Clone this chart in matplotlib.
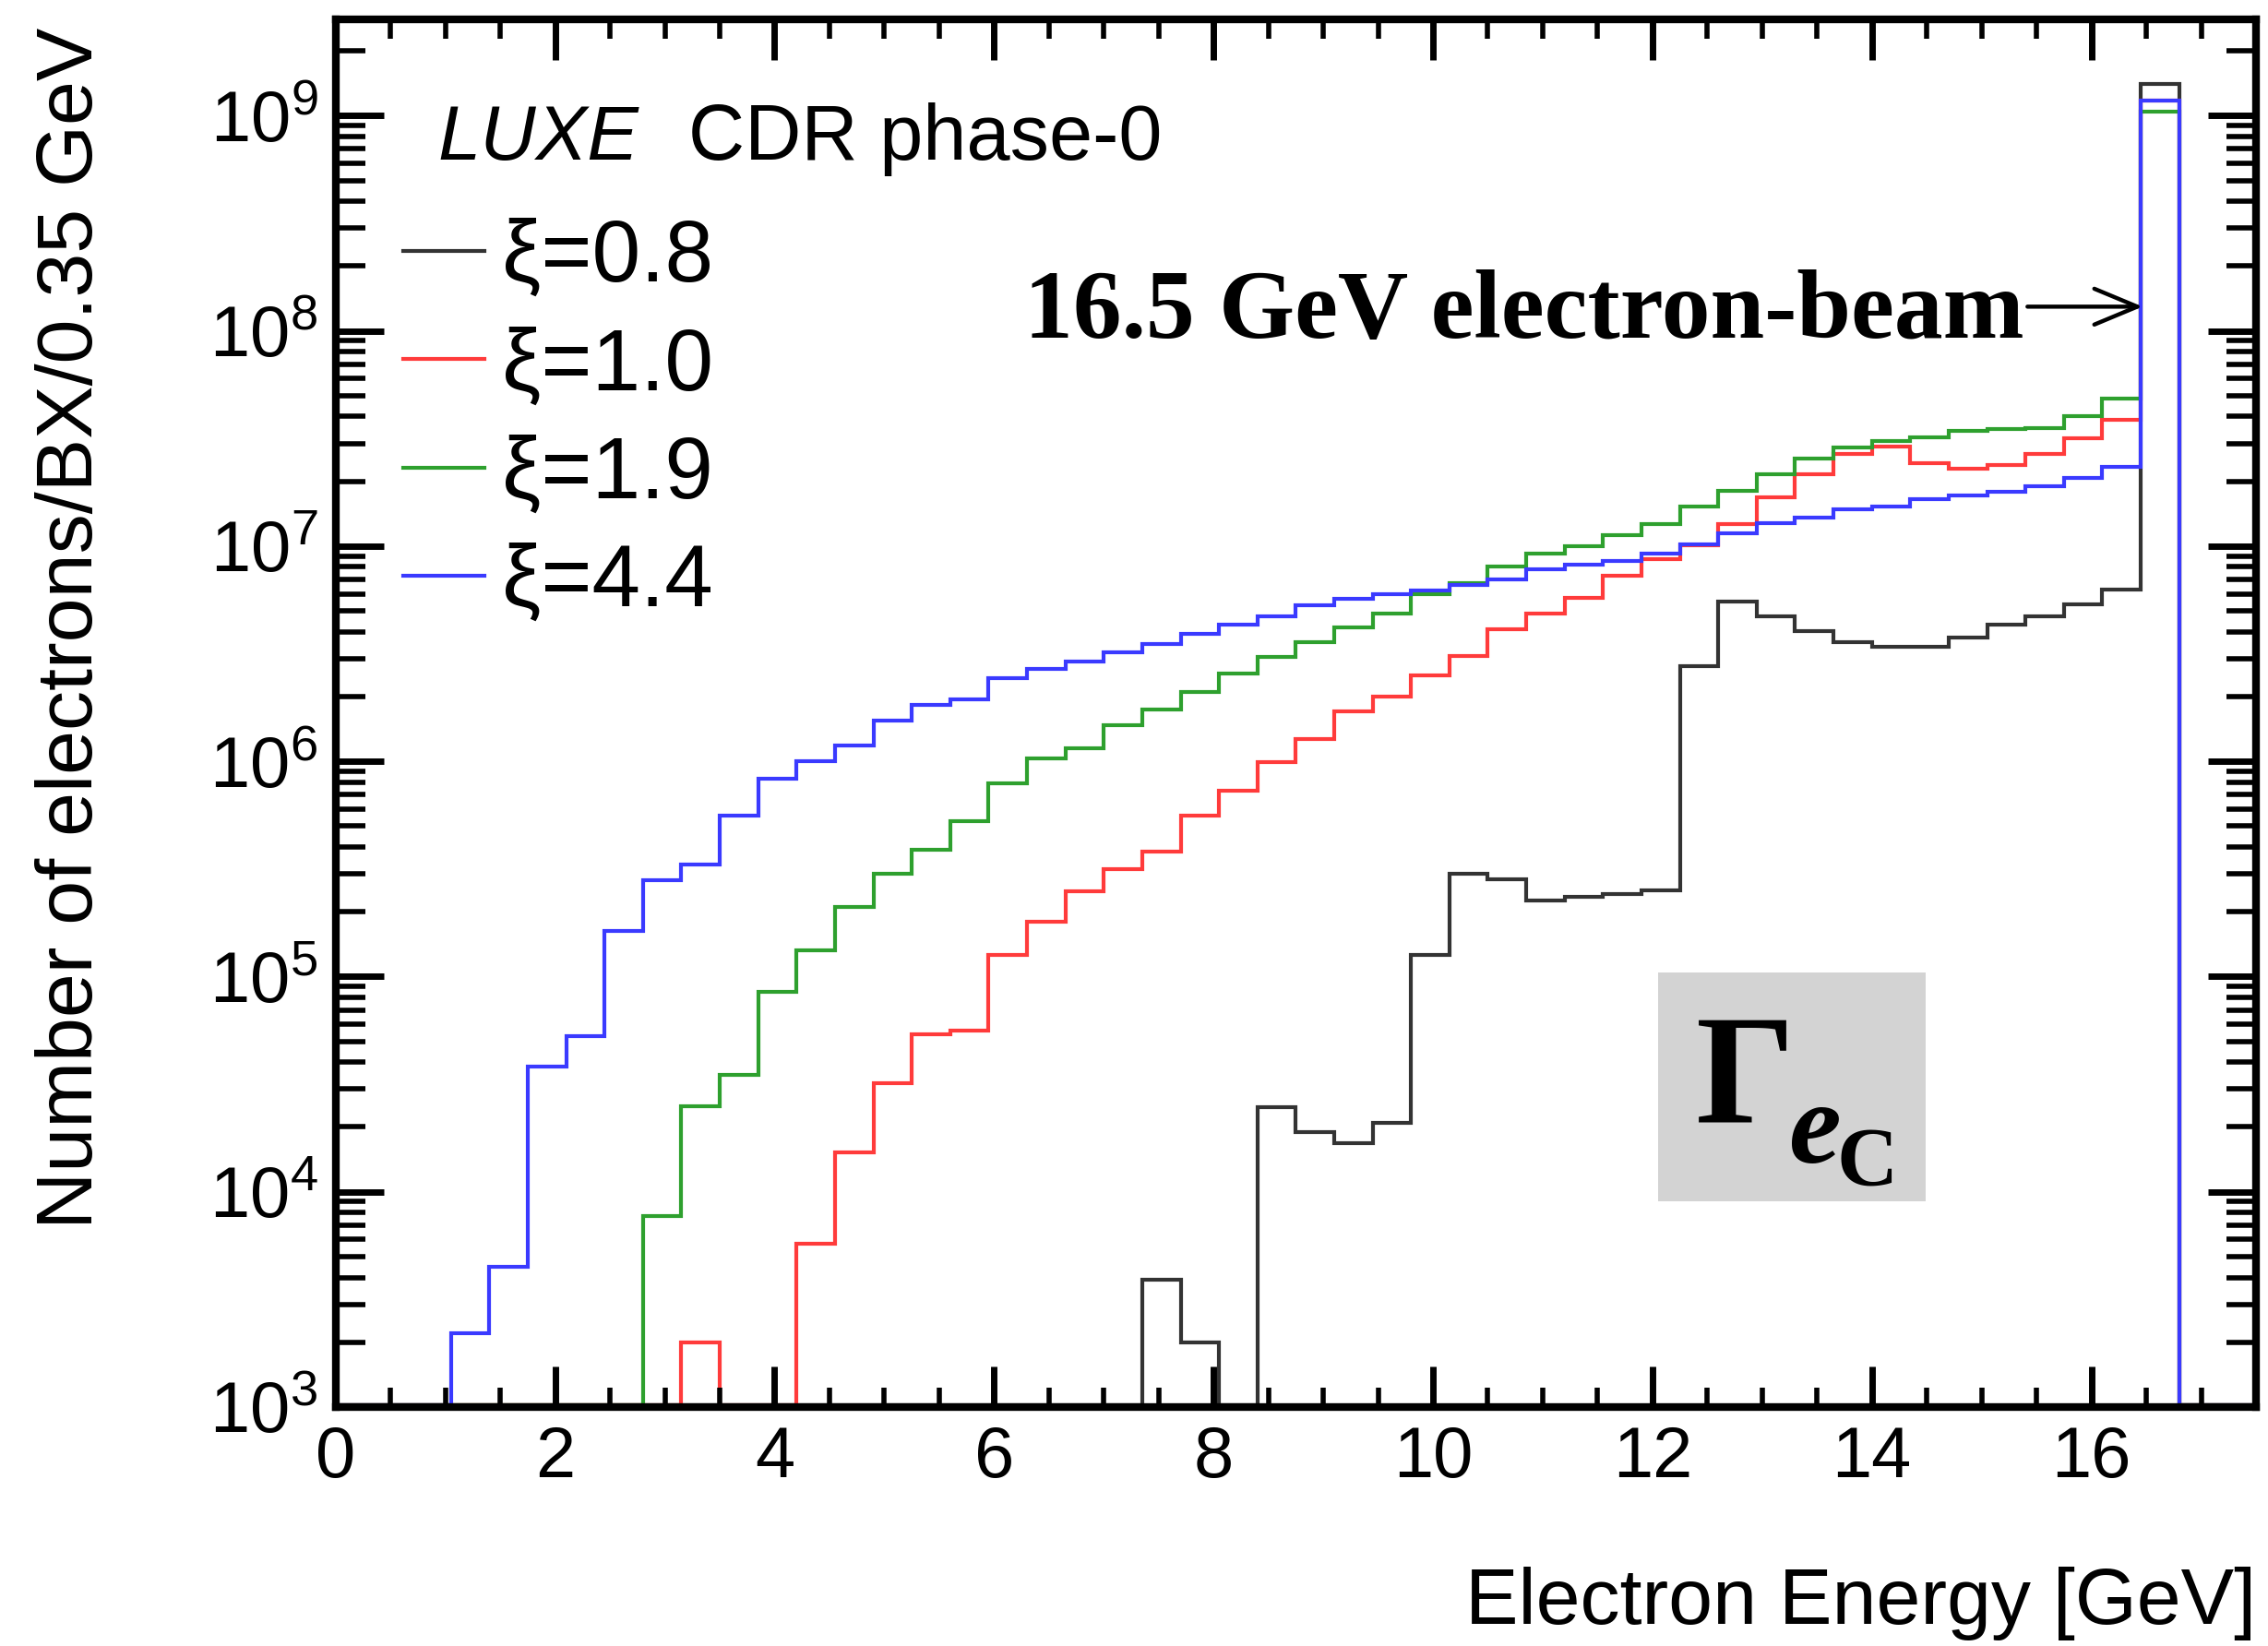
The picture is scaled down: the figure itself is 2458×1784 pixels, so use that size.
import numpy as np
import matplotlib
matplotlib.use("Agg")
import matplotlib.pyplot as plt
from matplotlib.ticker import MultipleLocator, LogLocator, NullFormatter, FixedLocator
from matplotlib.patches import Rectangle

plt.rcParams['font.family'] = ['Liberation Sans', 'DejaVu Sans']
plt.rcParams['mathtext.fontset'] = 'custom'
plt.rcParams['mathtext.rm'] = 'Liberation Sans'
plt.rcParams['mathtext.it'] = 'Liberation Sans:italic'
plt.rcParams['mathtext.bf'] = 'Liberation Sans:bold'

# 50 bins of 0.35 GeV from 0 to 17.5 GeV
bin_edges = np.linspace(0, 17.5, 51)

xi_labels = ["\u03be=0.8", "\u03be=1.0", "\u03be=1.9", "\u03be=4.4"]
colors = ["#333333", "#ff3b3b", "#2ea02e", "#3a3aff"]

xi08 = [0]*21 + [3.9e3, 2.0e3, 0, 2.48e4, 1.89e4, 1.69e4, 2.09e4, 1.26e5, 3.0e5,
        2.83e5, 2.26e5, 2.35e5, 2.41e5, 2.51e5, 2.78e6, 5.55e6, 4.72e6, 4.01e6,
        3.57e6, 3.39e6, 3.39e6, 3.75e6, 4.3e6, 4.72e6, 5.36e6, 6.3e6, 1.4e9, 0, 0]

xi10 = [0]*9 + [2.0e3, 0, 0, 5.75e3, 1.53e4, 3.2e4, 5.4e4, 5.6e4, 1.26e5, 1.79e5,
        2.48e5, 3.16e5, 3.8e5, 5.6e5, 7.3e5, 9.9e5, 1.27e6, 1.7e6, 2.0e6, 2.5e6,
        3.1e6, 4.09e6, 4.84e6, 5.72e6, 7.26e6, 8.67e6, 1.01e7, 1.27e7, 1.68e7,
        2.16e7, 2.68e7, 2.9e7, 2.42e7, 2.28e7, 2.37e7, 2.68e7, 3.16e7, 3.88e7,
        1.17e9, 0, 0]

xi19 = [0]*8 + [7.7e3, 2.5e4, 3.5e4, 8.5e4, 1.33e5, 2.1e5, 3.0e5, 3.9e5, 5.25e5,
        7.9e5, 1.03e6, 1.15e6, 1.47e6, 1.74e6, 2.1e6, 2.56e6, 3.06e6, 3.57e6,
        4.2e6, 4.84e6, 6.0e6, 6.7e6, 8.0e6, 9.2e6, 1.0e7, 1.12e7, 1.27e7, 1.53e7,
        1.81e7, 2.16e7, 2.55e7, 2.86e7, 3.08e7, 3.2e7, 3.42e7, 3.5e7, 3.55e7,
        4.0e7, 4.83e7, 1.04e9, 0, 0]

xi44 = [0]*3 + [2.2e3, 4.5e3, 3.8e4, 5.3e4, 1.63e5, 2.8e5, 3.3e5, 5.6e5, 8.3e5,
        1.0e6, 1.18e6, 1.54e6, 1.82e6, 1.95e6, 2.44e6, 2.7e6, 2.9e6, 3.2e6,
        3.5e6, 3.9e6, 4.3e6, 4.7e6, 5.3e6, 5.7e6, 6.0e6, 6.2e6, 6.6e6, 7.0e6,
        7.8e6, 8.2e6, 8.5e6, 9.2e6, 1.02e7, 1.15e7, 1.28e7, 1.36e7, 1.48e7,
        1.53e7, 1.66e7, 1.72e7, 1.78e7, 1.9e7, 2.08e7, 2.34e7, 1.18e9, 0, 0]

series = [xi08, xi10, xi19, xi44]

ymin, ymax = 1e3, 2.8e9

fig = plt.figure(figsize=(12.29, 8.92), dpi=200)
ax = fig.add_axes([0.148, 0.1452, 0.8467, 0.843])

handles = []
for vals, c, lab in zip(series, colors, xi_labels):
    # empty bins are drawn on the frame floor, like ROOT does
    v = np.clip(np.array(vals, dtype=float), ymin * 1.02, None)
    h = ax.stairs(v, bin_edges, baseline=None, color=c, lw=1.5, label=lab)
    handles.append(h)

ax.set_yscale('log')
ax.set_xlim(0, 17.5)
ax.set_ylim(ymin, ymax)

ax.xaxis.set_major_locator(FixedLocator(np.arange(0, 17, 2)))
ax.xaxis.set_minor_locator(MultipleLocator(0.5))
ax.yaxis.set_major_locator(FixedLocator([10.0**k for k in range(3, 10)]))
ax.yaxis.set_minor_locator(LogLocator(base=10, subs=np.arange(2, 10), numticks=20))
ax.yaxis.set_minor_formatter(NullFormatter())

ax.tick_params(which='both', direction='in', top=True, right=True, labelsize=28)
ax.tick_params(axis='x', which='major', length=15.8, width=2.5, pad=7)
ax.tick_params(axis='x', which='minor', length=7.6, width=2.0)
ax.tick_params(axis='y', which='major', length=18.7, width=2.5, pad=7)
ax.tick_params(axis='y', which='minor', length=11.5, width=2.0)
for sp in ax.spines.values():
    sp.set_linewidth(3)

ax.set_xlabel("Electron Energy [GeV]", fontsize=31, loc='right')
ax.xaxis.set_label_coords(1.0, -0.115)
ax.set_ylabel("Number of electrons/BX/0.35 GeV", fontsize=31, loc='top')
ax.yaxis.set_label_coords(-0.118, 0.994)

ax.text(0.0533, 0.899, "LUXE", transform=ax.transAxes, fontsize=30,
        style='italic', va='baseline', ha='left')
ax.text(0.1836, 0.899, "CDR phase-0", transform=ax.transAxes, fontsize=30.5,
        va='baseline', ha='left')

ax.legend(handles=handles, loc='upper left', bbox_to_anchor=(0.0351, 0.857),
          frameon=False, fontsize=34, borderpad=0, borderaxespad=0,
          handlelength=0.93, handletextpad=0.2, labelspacing=0.30)

ax.text(0.3585, 0.7706, "16.5 GeV electron-beam", transform=ax.transAxes,
        fontsize=38, fontweight='bold', family='Liberation Serif',
        va='baseline', ha='left')
ax.annotate("", xy=(0.941, 0.793), xytext=(0.881, 0.793),
            xycoords='axes fraction', textcoords='axes fraction',
            arrowprops=dict(arrowstyle='->,head_length=0.6,head_width=0.25',
                            lw=1.6, color='black', shrinkA=0, shrinkB=0,
                            mutation_scale=28))

ax.add_patch(Rectangle((0.6886, 0.1483), 0.1394, 0.1649, transform=ax.transAxes,
                       facecolor='#d3d3d3', edgecolor='none', zorder=1))
ax.text(0.7083, 0.2061, "\u0393", transform=ax.transAxes, fontsize=61,
        fontweight='bold', family='Liberation Serif', va='baseline', ha='left', zorder=3)
ax.text(0.7568, 0.1762, "e", transform=ax.transAxes, fontsize=46,
        fontweight='bold', style='italic', family='Liberation Serif',
        va='baseline', ha='left', zorder=3)
ax.text(0.7814, 0.1596, "C", transform=ax.transAxes, fontsize=33,
        fontweight='bold', family='Liberation Serif', va='baseline', ha='left', zorder=3)

fig.savefig("out.png", dpi=200)
